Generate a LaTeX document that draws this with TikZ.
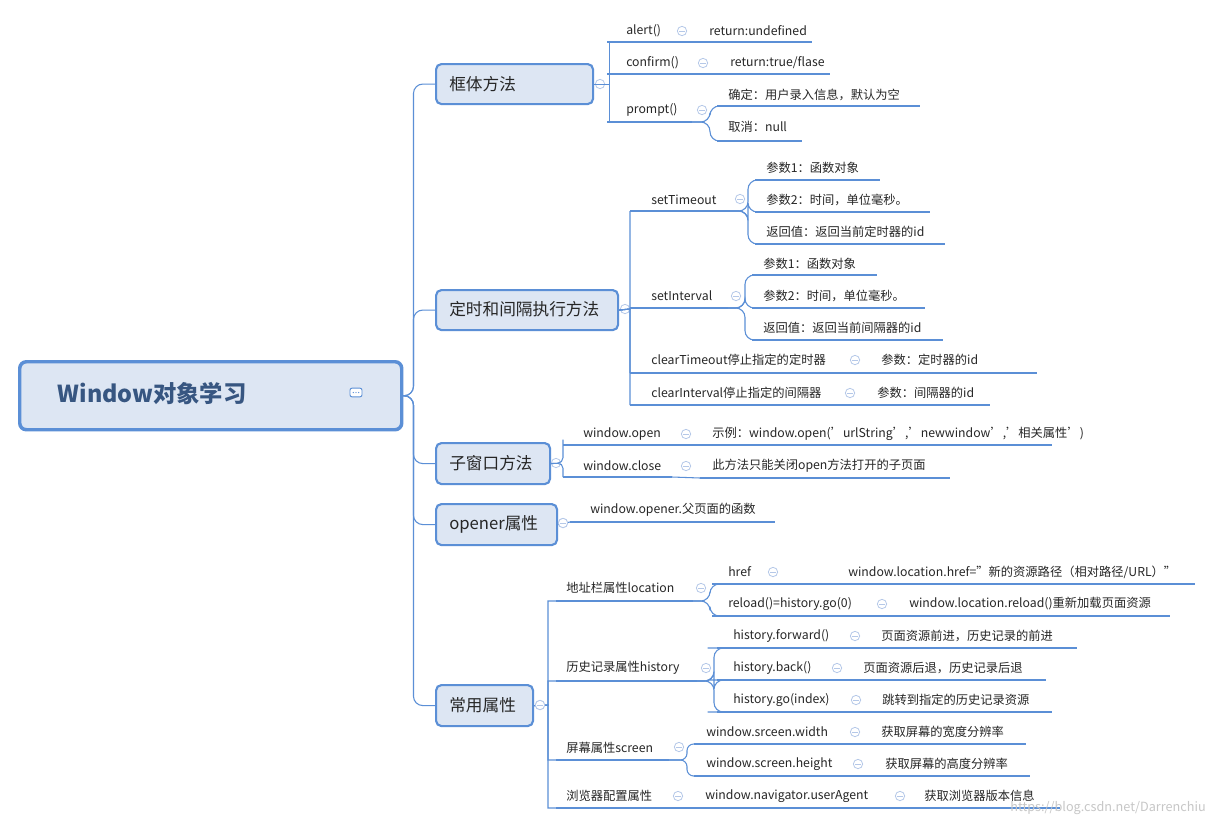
\documentclass[tikz,border=0pt]{standalone}
\usepackage{fontspec}
\setmainfont{Noto Sans CJK SC}
\begin{document}
\begin{tikzpicture}[x=0.75pt,y=-0.75pt]
\definecolor{bl}{HTML}{5B8FD6}
\definecolor{bf}{HTML}{DDE6F3}
\definecolor{cb}{HTML}{B5C8E8}
\tikzset{
 uline/.style={bl,line width=2.2pt},
 con/.style={bl,line width=0.8pt},
 lt/.style={inner sep=0pt,font=\fontsize{9.2}{11}\selectfont,text=black!85},
 box/.style={draw=bl,fill=bf,line width=1.6pt,rounded corners=4pt,inner sep=0pt,font=\fontsize{12.5}{14}\selectfont,text=black!80,anchor=north west},
 cc/.style={circle,draw=cb,fill=white,line width=0.6pt,minimum size=7pt,inner sep=0pt},
}
\newcommand\lf[7]{\coordinate (#1L) at (#2,#5); \coordinate (#1R) at (#4,#5);
 \draw[uline] (#1L)--(#1R);
 \node[lt,anchor=west] (#1) at (#3,#6) {#7};}
\newcommand\cc[3]{\node[cc] (#1) at (#2,#3){};
 \draw[cb,line width=0.6pt] ([xshift=-2pt]#1.center)--([xshift=2pt]#1.center);}
\useasboundingbox (0,0) rectangle (1214,826);
\fill[white] (0,0) rectangle (1214,826);
% root
\node[draw=bl,fill=bf,line width=2.6pt,rounded corners=5pt,minimum width=286.5pt,minimum height=51pt,anchor=north west,inner sep=0pt] (root) at (18,360) {};
\node[anchor=west,font=\bfseries\fontsize{17.5}{20}\selectfont,text=bl!60!black] (rt) at (53,394) {Window对象学习};
\node[draw=bl,fill=white,rounded corners=1.5pt,minimum width=9pt,minimum height=6.5pt,inner sep=0pt,line width=0.7pt] (ic) at (356,392.5) {};
\foreach \dx in {-2,0,2}{\fill[bl] ([xshift=\dx pt]ic.center) circle (0.5pt);}
% boxes
\node[box,minimum width=117.75pt,minimum height=30pt] (b1) at (435,63) {};
\node[lt,anchor=west,font=\fontsize{12.5}{14}\selectfont] (b1t) at (449,84) {框体方法};
\node[box,minimum width=136.5pt,minimum height=30pt] (b2) at (435,289) {};
\node[lt,anchor=west,font=\fontsize{12.5}{14}\selectfont] (b2t) at (449,309) {定时和间隔执行方法};
\node[box,minimum width=85.5pt,minimum height=30.75pt] (b3) at (435,442) {};
\node[lt,anchor=west,font=\fontsize{12.5}{14}\selectfont] (b3t) at (449,463) {子窗口方法};
\node[box,minimum width=90.75pt,minimum height=30.75pt] (b4) at (435,503) {};
\node[lt,anchor=west,font=\fontsize{12.5}{14}\selectfont] (b4t) at (449,524) {opener属性};
\node[box,minimum width=72.75pt,minimum height=30.75pt] (b5) at (435,684) {};
\node[lt,anchor=west,font=\fontsize{12.5}{14}\selectfont] (b5t) at (449,705) {常用属性};
% trunk
\foreach \b in {b1,b2,b3,b4,b5}{\draw[con,rounded corners=7pt] (root.east) -- ++(10,0) |- (\b.west);}
\cc{c1}{600}{84}\cc{c2}{625}{309}\cc{c3}{556}{463}\cc{c4}{563}{523}\cc{c5}{540}{705}
% group 1
\lf{a1}{607}{626}{668}{42}{31}{alert()}
\lf{a2}{607}{626}{696}{74}{63}{confirm()}
\lf{a3}{607}{626}{692}{122}{110}{prompt()}
\lf{a11}{697}{709}{812}{42}{31}{return:undefined}
\lf{a21}{720}{730}{830}{74}{63}{return:true/flase}
\lf{a31}{717}{728}{920}{106}{95}{确定：用户录入信息，默认为空}
\lf{a32}{717}{728}{802}{141}{127}{取消：null}
\foreach \c in {a1,a2,a3}{\draw[con] (b1.east) -- ++(15,0) |- (\c L);}
\draw[con] (a1R)--(a11L); \draw[con] (a2R)--(a21L);
\foreach \c in {a31,a32}{\draw[con,rounded corners=7pt] (a3R) -- ++(18,0) |- (\c L);}
\cc{d1}{682}{31}\cc{d2}{703}{63}\cc{d3}{702}{110}
% group 2
\lf{s1}{630}{651}{730}{211}{200}{setTimeout}
\lf{s2}{630}{651}{728}{308}{296}{setInterval}
\lf{s3}{630}{651}{845}{373}{360}{clearTimeout停止指定的定时器}
\lf{s4}{630}{651}{840}{405}{393}{clearInterval停止指定的间隔器}
\foreach \c in {s1,s2,s3,s4}{\draw[con] (b2.east) -- (630,309) |- (\c L);}
\lf{s11}{755}{766}{880}{180}{168}{参数1：函数对象}
\lf{s12}{755}{766}{930}{212}{200}{参数2：时间，单位毫秒。}
\lf{s13}{755}{766}{945}{244}{232}{返回值：返回当前定时器的id}
\foreach \c in {s11,s12,s13}{\draw[con,rounded corners=7pt] (s1R) -- ++(18,0) |- (\c L);}
\lf{s21}{752}{763}{877}{275}{264}{参数1：函数对象}
\lf{s22}{752}{763}{925}{308}{296}{参数2：时间，单位毫秒。}
\lf{s23}{752}{763}{943}{340}{328}{返回值：返回当前间隔器的id}
\foreach \c in {s21,s22,s23}{\draw[con,rounded corners=7pt] (s2R) -- ++(17,0) |- (\c L);}
\lf{s31}{870}{881}{1037}{373}{360}{参数：定时器的id}
\lf{s41}{866}{877}{990}{405}{393}{参数：间隔器的id}
\draw[con] (s3R)--(s31L); \draw[con] (s4R)--(s41L);
\cc{e1}{740}{199}\cc{e2}{736}{296}\cc{e3}{855}{360}\cc{e4}{850}{393}
% group 3
\lf{w1}{563}{583}{672}{445}{434}{window.open}
\lf{w2}{563}{583}{672}{477}{466}{window.close}
\foreach \c in {w1,w2}{\draw[con,rounded corners=4pt] (b3.east) -- (563,463) |- (\c L);}
\lf{w11}{700}{712}{1052}{445}{434}{示例：window.open('urlString','newwindow','相关属性')}
\lf{w21}{700}{712}{950}{478}{466}{此方法只能关闭open方法打开的子页面}
\draw[con] (w1R)--(w11L); \draw[con] (w2R)--(w21L);
\cc{f1}{686}{434}\cc{f2}{686}{466}
% group 4
\lf{o1}{570}{590}{775}{522}{510}{window.opener.父页面的函数}
\draw[con] (b4.east) -- (o1L);
\cc{c4b}{563}{523}
% group 5
\lf{h1}{556}{566}{693}{601}{588}{地址栏属性location}
\lf{h2}{556}{566}{697}{681}{668}{历史记录属性history}
\lf{h3}{556}{566}{669}{760}{748}{屏幕属性screen}
\lf{h4}{556}{566}{670}{808}{796}{浏览器配置属性}
\foreach \c in {h1,h2,h3,h4}{\draw[con] (b5.east) -- (548,705) |- (\c L);}
\cc{c5b}{540}{705}
\lf{h11}{712}{728}{763}{584}{572}{href}
\lf{h12}{712}{728}{893}{616}{604}{reload()=history.go(0)}
\foreach \c in {h11,h12}{\draw[con,rounded corners=7pt] (h1R) -- ++(17,0) |- (\c L);}
\lf{h111}{790}{848}{1195}{584}{572}{window.location.href="新的资源路径（相对路径/URL）"}
\lf{h121}{898}{909}{1170}{616}{604}{window.location.reload()重新加载页面资源}
\draw[con] (h11R)--(h111L); \draw[con] (h12R)--(h121L);
\lf{h21}{733}{733}{845}{648}{636}{history.forward()}
\lf{h22}{733}{733}{827}{680}{668}{history.back()}
\lf{h23}{733}{733}{846}{712}{700}{history.go(index)}
\foreach \c in {h21,h22,h23}{\draw[con,rounded corners=7pt] (h2R) -- ++(17,0) |- ([xshift=-12pt]\c L) -- (\c L);}
\foreach \c in {h21,h22,h23}{\draw[uline] ([xshift=-12pt]\c L) -- (\c L);}
\lf{h211}{870}{881}{1077}{648}{636}{页面资源前进，历史记录的前进}
\lf{h221}{852}{863}{1046}{680}{668}{页面资源后退，历史记录后退}
\lf{h231}{870}{882}{1052}{712}{700}{跳转到指定的历史记录资源}
\draw[con] (h21R)--(h211L); \draw[con] (h22R)--(h221L); \draw[con] (h23R)--(h231L);
\lf{h31}{694}{706}{842}{744}{732}{window.srceen.width}
\lf{h32}{694}{706}{850}{776}{764}{window.screen.height}
\foreach \c in {h31,h32}{\draw[con,rounded corners=5pt] (h3R) -- ++(18,0) |- (\c L);}
\lf{h311}{870}{881}{1026}{744}{732}{获取屏幕的宽度分辨率}
\lf{h321}{873}{885}{1030}{776}{764}{获取屏幕的高度分辨率}
\draw[con] (h31R)--(h311L); \draw[con] (h32R)--(h321L);
\lf{h41}{693}{705}{895}{808}{796}{window.navigator.userAgent}
\lf{h411}{912}{924}{1060}{808}{796}{获取浏览器版本信息}
\draw[con] (h4R)--(h41L); \draw[con] (h41R)--(h411L);
\cc{g1}{701}{588}\cc{g2}{706}{668}\cc{g3}{679}{747}\cc{g4}{678}{796}
\cc{g11}{773}{572}\cc{g12}{882}{604}\cc{g21}{855}{636}\cc{g22}{837}{668}\cc{g23}{856}{700}
\cc{g31}{855}{732}\cc{g32}{858}{764}\cc{g41}{900}{796}
\node[anchor=east,inner sep=0pt,font=\fontsize{9.5}{11}\selectfont,text=black!22] (wm) at (1206,808) {https://blog.csdn.net/Darrenchiu};
\end{tikzpicture}
\end{document}
